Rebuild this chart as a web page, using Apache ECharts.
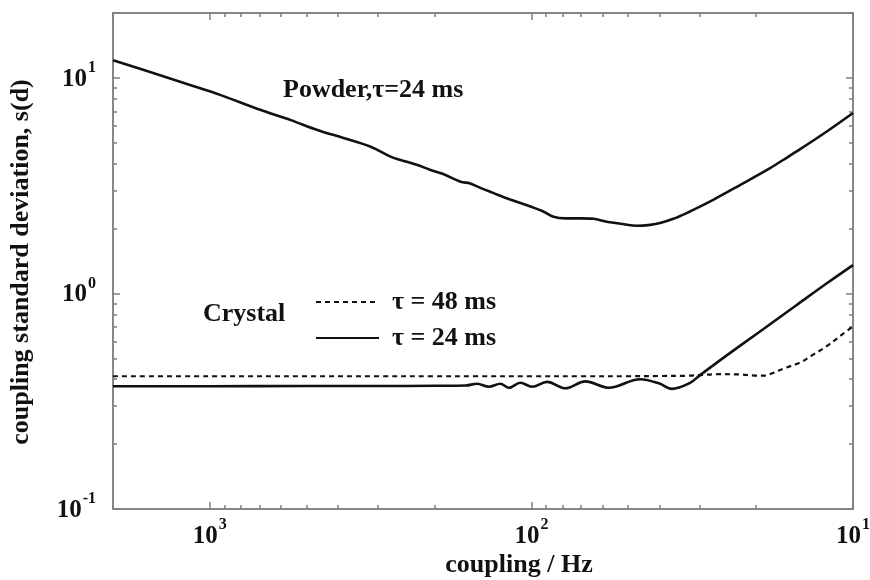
<!DOCTYPE html>
<html>
<head>
<meta charset="utf-8">
<script src="https://cdn.jsdelivr.net/npm/echarts@6/dist/echarts.min.js"></script>
<style>
  html, body { margin: 0; padding: 0; background: #fff; }
  #chart { width: 870px; height: 580px; }
</style>
</head>
<body>
<div id="chart"></div>
<script>
// Coupling standard deviation s(d) versus coupling (Hz), log-log, frequency axis reversed.
const FONT = '"Liberation Serif", "Times New Roman", Times, serif';
const INK = '#111111';
const FRAME = '#7f7f7f';

// Powder sample, tau = 24 ms
const powderFreq = [2000, 1525, 1146, 924, 694, 560, 463, 384, 316, 274, 255, 226, 206, 188, 166, 155, 147, 131, 116, 106, 100.7, 91.8, 85.4, 78.4, 70.4, 64.2, 58.2, 52.2, 47.0, 42.7, 39.8, 36.2, 32.9, 29.9, 27.2, 22.4, 18.5, 16.5, 14.6, 12.0, 10];
const powderSd   = [12.08, 10.63, 9.25, 8.32, 7.09, 6.37, 5.73, 5.26, 4.79, 4.31, 4.16, 3.94, 3.74, 3.58, 3.30, 3.24, 3.13, 2.92, 2.72, 2.60, 2.53, 2.40, 2.27, 2.23, 2.23, 2.22, 2.15, 2.10, 2.06, 2.08, 2.12, 2.22, 2.36, 2.53, 2.72, 3.19, 3.74, 4.16, 4.67, 5.67, 6.87];

// Crystal sample, tau = 48 ms
const crystal48Freq = [2000, 1000, 500, 300, 200, 150, 100, 70, 50, 40, 33, 29.9, 25.9, 22.4, 20.2, 18.8, 17.7, 16.2, 14.6, 13.3, 12.1, 11.0, 10];
const crystal48Sd   = [0.413, 0.413, 0.413, 0.413, 0.413, 0.413, 0.413, 0.413, 0.413, 0.414, 0.415, 0.418, 0.422, 0.421, 0.416, 0.416, 0.428, 0.452, 0.478, 0.520, 0.568, 0.632, 0.703];

// Crystal sample, tau = 24 ms
const crystal24Freq = [2000, 1000, 500, 300, 200, 160, 147.5, 135.7, 124.9, 117.6, 108.2, 99.5, 89.4, 78.4, 68.0, 57.5, 45.9, 40, 36.6, 32.1, 29.9, 25, 20, 15, 12, 10];
const crystal24Sd   = [0.371, 0.371, 0.372, 0.372, 0.373, 0.374, 0.381, 0.369, 0.381, 0.365, 0.385, 0.369, 0.389, 0.363, 0.391, 0.365, 0.400, 0.382, 0.361, 0.385, 0.418, 0.509, 0.647, 0.882, 1.121, 1.354];

// Tick positions
const xMajorTicks = [10, 100, 1000];
const xMinorTicks = [20, 30, 40, 50, 60, 70, 80, 90, 200, 300, 400, 500, 600, 700, 800, 900, 2000];
const yMajorTicks = [0.1, 1, 10];
const yMinorTicks = [0.2, 0.3, 0.4, 0.5, 0.6, 0.7, 0.8, 0.9, 2, 3, 4, 5, 6, 7, 8, 9, 20];

const X_RANGE = [10, 2000];
const Y_RANGE = [0.1, 20];

const labels = {
  powder: 'Powder,τ=24 ms',
  crystal: 'Crystal',
  tau48: 'τ = 48 ms',
  tau24: 'τ = 24 ms',
  xTitle: 'coupling / Hz',
  yTitle: 'coupling standard deviation, s(d)'
};

function pairs(xs, ys) { return xs.map((x, i) => [x, ys[i]]); }

// Power-of-ten label drawn as "10" with a raised exponent
function powLabel(v) {
  const e = Math.round(Math.log10(v));
  return '{b|10}{s|' + e + '}';
}

const powRich = {
  b: { fontFamily: FONT, fontSize: 25, fontWeight: 'bold', color: INK, verticalAlign: 'bottom' },
  s: { fontFamily: FONT, fontSize: 16, fontWeight: 'bold', color: INK, verticalAlign: 'bottom', padding: [0, 0, 16, 1] }
};

function xAxisDef(position, ticks, len, withLabels) {
  return {
    type: 'log', logBase: 10, min: X_RANGE[0], max: X_RANGE[1], inverse: true,
    gridIndex: 0, position: position,
    axisLine: { show: true, lineStyle: { color: FRAME, width: 1.5 } },
    axisTick: { show: true, inside: true, length: len, customValues: ticks, lineStyle: { color: FRAME, width: 1.5 } },
    axisLabel: withLabels
      ? { show: true, customValues: ticks, formatter: powLabel, margin: 8, rich: powRich }
      : { show: false },
    splitLine: { show: false },
    minorTick: { show: false },
    minorSplitLine: { show: false }
  };
}

function yAxisDef(position, ticks, len, withLabels) {
  return {
    type: 'log', logBase: 10, min: Y_RANGE[0], max: Y_RANGE[1],
    gridIndex: 0, position: position,
    axisLine: { show: true, lineStyle: { color: FRAME, width: 1.5 } },
    axisTick: { show: true, inside: true, length: len, customValues: ticks, lineStyle: { color: FRAME, width: 1.5 } },
    axisLabel: withLabels
      ? { show: true, customValues: ticks, formatter: powLabel, margin: 17, padding: [0, 0, 4, 0], rich: powRich }
      : { show: false },
    splitLine: { show: false },
    minorTick: { show: false },
    minorSplitLine: { show: false }
  };
}

const lineBase = { type: 'line', symbol: 'none', showSymbol: false, smooth: 0.35, silent: true, xAxisIndex: 0, yAxisIndex: 0, color: INK };

const chart = echarts.init(document.getElementById('chart'), null, { renderer: 'canvas' });
chart.setOption({
  animation: false,
  backgroundColor: '#ffffff',
  grid: { left: 113, right: 17, top: 13, bottom: 71, containLabel: false, outerBoundsMode: 'none' },
  xAxis: [
    xAxisDef('bottom', xMajorTicks, 7, true),
    xAxisDef('bottom', xMinorTicks, 4, false),
    xAxisDef('top', xMajorTicks, 7, false),
    xAxisDef('top', xMinorTicks, 4, false)
  ],
  yAxis: [
    yAxisDef('left', yMajorTicks, 7, true),
    yAxisDef('left', yMinorTicks, 4, false),
    yAxisDef('right', yMajorTicks, 7, false),
    yAxisDef('right', yMinorTicks, 4, false)
  ],
  legend: {
    orient: 'vertical', left: 310, top: 284,
    itemWidth: 63, itemHeight: 14, itemGap: 10,
    selectedMode: false,
    itemStyle: { opacity: 0 },
    data: [labels.tau48, labels.tau24],
    textStyle: { fontFamily: FONT, fontSize: 26, fontWeight: 'bold', color: INK, lineHeight: 26, padding: [0, 0, 0, 8] }
  },
  series: [
    Object.assign({}, lineBase, {
      name: labels.powder,
      data: pairs(powderFreq, powderSd),
      lineStyle: { color: INK, width: 2.6 }
    }),
    Object.assign({}, lineBase, {
      name: labels.tau48,
      data: pairs(crystal48Freq, crystal48Sd),
      lineStyle: { color: INK, width: 2.2, type: [5, 4] }
    }),
    Object.assign({}, lineBase, {
      name: labels.tau24,
      data: pairs(crystal24Freq, crystal24Sd),
      lineStyle: { color: INK, width: 2.6 }
    })
  ],
  graphic: [
    { type: 'text', left: 283, top: 77, style: { text: labels.powder, font: 'bold 26px ' + FONT, fill: INK } },
    { type: 'text', left: 203, top: 301, style: { text: labels.crystal, font: 'bold 26px ' + FONT, fill: INK } },
    { type: 'text', x: 519, y: 565, style: { text: labels.xTitle, font: 'bold 26px ' + FONT, fill: INK, align: 'center', verticalAlign: 'middle' } },
    { type: 'text', x: 21, y: 262, rotation: Math.PI / 2, style: { text: labels.yTitle, font: 'bold 26px ' + FONT, fill: INK, align: 'center', verticalAlign: 'middle' } }
  ]
});
</script>
</body>
</html>
